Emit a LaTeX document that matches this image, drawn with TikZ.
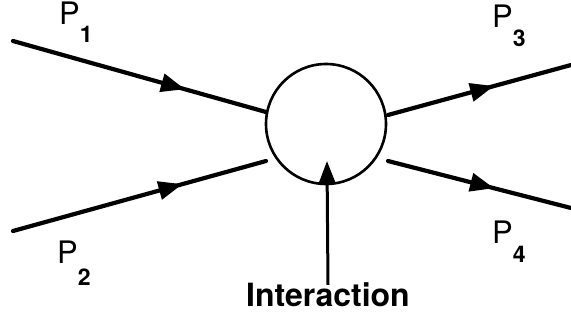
\documentclass[tikz,border=0pt]{standalone}
\usepackage{fontspec}
\setmainfont{TeX Gyre Heros}
\usetikzlibrary{arrows.meta,decorations.markings}
\newcommand\plab[2]{P\hspace{0pt}\raisebox{-#2}{\fontsize{23}{23}\selectfont\bfseries #1}}
\tikzset{
  particle/.style={line width=4.2pt, line cap=round,
    postaction={decorate, decoration={markings,
      mark=at position #1 with {\arrow{Triangle[length=24pt,width=18pt]}}}}},
  lbl/.style={anchor=base west, inner sep=0pt, font=\fontsize{31}{31}\selectfont},
}
\begin{document}
\begin{tikzpicture}[x=1pt,y=-1pt]
\useasboundingbox (0,0) rectangle (571,321);
\node[circle, draw, line width=2.6pt, minimum size=120pt, inner sep=0pt] (int) at (326,124) {};
% free ends
\coordinate (a1) at (13,41);  \coordinate (b1) at (266,112);
\coordinate (a2) at (13,231); \coordinate (b2) at (266,161);
\coordinate (a3) at (388,115); \coordinate (b3) at (571,65);
\coordinate (a4) at (388,161); \coordinate (b4) at (571,208);
\coordinate (tip) at (327,161);
\draw[particle=0.68] (a1) -- (b1);
\draw[particle=0.67] (a2) -- (b2);
\draw[particle=0.58] (a3) -- (b3);
\draw[particle=0.58] (a4) -- (b4);
% labels
\node[lbl] (p1) at (59,25) {\plab{1}{18pt}};
\node[lbl] (p2) at (57,263) {\plab{2}{22pt}};
\node[lbl] (p3) at (492,28) {\plab{3}{19pt}};
\node[lbl] (p4) at (492,243) {\plab{4}{19pt}};
\node[anchor=base, inner sep=0pt, font=\fontsize{32}{32}\selectfont\bfseries] (lab) at (328,306) {Interaction};
\draw[line width=3pt, -{Triangle[length=22pt,width=16pt]}] ([yshift=-3pt]lab.north) -- (tip);
\end{tikzpicture}
\end{document}
